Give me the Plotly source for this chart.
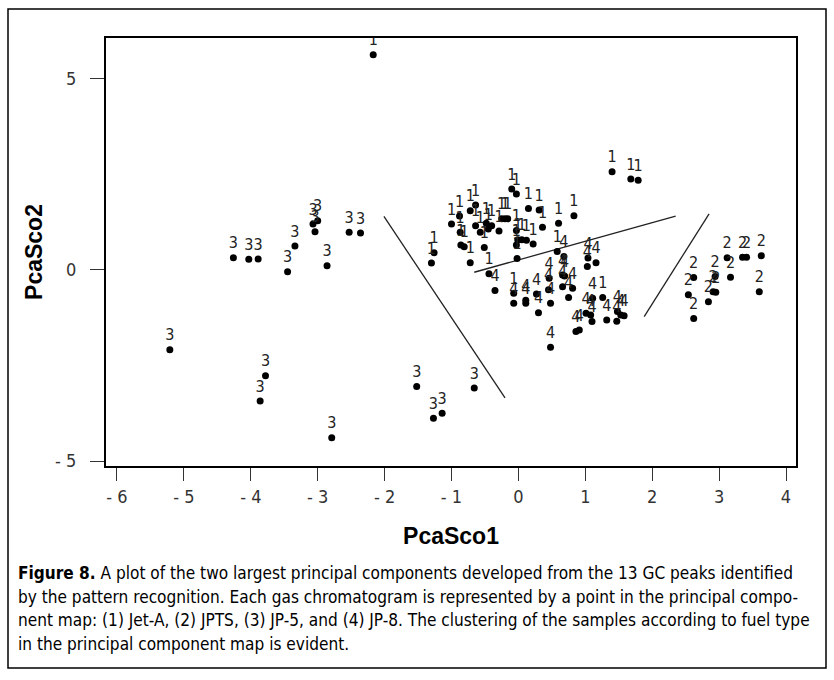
import plotly.graph_objects as go

# ---- data ----
jet_a_x = [-2.17, 1.40, 1.68, 1.79, -1.26, -1.30, -1.00, -0.88, -0.87, -0.86, -0.81, -0.72, -0.64, -0.64,
           -0.57, -0.51, -0.48, -0.45, -0.40, -0.29, -0.25, -0.20, -0.16, -0.10, -0.03, -0.03, -0.01, 0.05,
           0.12, -0.03, 0.15, 0.22, 0.31, 0.36, 0.60, 0.83, -0.02, 0.58, -0.72, -0.44, -0.07, 1.26]
jet_a_y = [5.63, 2.57, 2.38, 2.35, 0.45, 0.18, 1.20, 1.41, 0.99, 0.65, 0.61, 1.55, 1.70, 1.16,
           0.99, 0.59, 1.22, 1.07, 1.16, 1.02, 1.34, 1.34, 1.34, 2.12, 1.99, 1.03, 0.79, 0.79,
           0.78, 0.65, 1.61, 0.68, 1.57, 1.12, 1.22, 1.42, 0.30, 0.48, 0.19, -0.10, -0.61, -0.72]

jpts_x = [2.62, 2.54, 2.62, 2.94, 2.91, 2.95, 2.84, 3.12, 3.17, 3.35, 3.41, 3.63, 3.60]
jpts_y = [-0.20, -0.65, -1.27, -0.17, -0.57, -0.58, -0.83, 0.32, -0.19, 0.33, 0.33, 0.37, -0.57]

jp5_x = [-4.26, -4.03, -3.89, -3.45, -3.34, -3.07, -3.00, -3.04, -2.86, -2.53, -2.36,
         -5.21, -3.78, -3.86, -2.79, -1.52, -1.27, -1.14, -0.66]
jp5_y = [0.32, 0.28, 0.29, -0.05, 0.63, 1.20, 1.29, 1.00, 0.11, 0.99, 0.97,
         -2.09, -2.77, -3.43, -4.39, -3.05, -3.88, -3.75, -3.09]

jp8_x = [0.68, -0.35, -0.07, 0.11, 0.11, 0.27, 0.30, 0.46, 0.45, 0.48, 0.66, 0.69, 0.66, 0.81, 0.75,
         1.03, 1.04, 1.16, 0.91, 0.86, 1.11, 1.01, 1.08, 1.10, 1.32, 1.48, 1.53, 1.58, 1.47, 0.48]
jp8_y = [0.35, -0.54, -0.87, -0.79, -0.87, -0.63, -1.12, -0.22, -0.52, -0.87, -0.13, -0.16, -0.44, -0.48, -0.72,
         0.09, 0.31, 0.19, -1.57, -1.61, -0.74, -1.13, -1.18, -1.35, -1.31, -1.09, -1.18, -1.20, -1.34, -2.02]

groups = [("1", jet_a_x, jet_a_y), ("2", jpts_x, jpts_y), ("3", jp5_x, jp5_y), ("4", jp8_x, jp8_y)]

# class boundary lines (endpoints)
boundary_a_x = [-0.66, 2.35]
boundary_a_y = [-0.06, 1.41]
boundary_b_x = [-2.01, -0.20]
boundary_b_y = [1.40, -3.35]
boundary_c_x = [2.85, 1.88]
boundary_c_y = [1.47, -1.22]

x_ticks = [-6, -5, -4, -3, -2, -1, 0, 1, 2, 3, 4]
y_ticks = [-5, 0, 5]

caption_lines = [
    "<b>Figure 8.</b> A plot of the two largest principal components developed from the 13 GC peaks identified",
    "by the pattern recognition. Each gas chromatogram is represented by a point in the principal compo-",
    "nent map: (1) Jet-A, (2) JPTS, (3) JP-5, and (4) JP-8. The clustering of the samples according to fuel type",
    "in the principal component map is evident.",
]

# ---- figure ----
NARROW = "DejaVu Sans Condensed, Liberation Sans Narrow, Arial Narrow, sans-serif"
fig = go.Figure()

for bx, by in [(boundary_a_x, boundary_a_y), (boundary_b_x, boundary_b_y), (boundary_c_x, boundary_c_y)]:
    fig.add_trace(go.Scatter(x=bx, y=by, mode="lines", line=dict(color="#222", width=1.3),
                             hoverinfo="skip", showlegend=False))

for lab, gx, gy in groups:
    fig.add_trace(go.Scatter(
        x=gx, y=gy, mode="markers+text", text=[lab] * len(gx), textposition="top center",
        textfont=dict(family=NARROW, size=16, color="#222"),
        marker=dict(color="black", size=7), showlegend=False, name=lab))

fig.update_xaxes(range=[-6.164, 4.149], tickvals=x_ticks,
                 ticktext=[str(v) if v >= 0 else "- " + str(-v) for v in x_ticks],
                 showgrid=False, zeroline=False, showline=True, linecolor="black", linewidth=2, mirror=True,
                 ticks="outside", ticklen=13, tickwidth=1, tickcolor="#333",
                 tickfont=dict(family=NARROW, size=18, color="#333"),
                 title=dict(text="<b>PcaSco1</b>",
                            font=dict(family="Liberation Sans, Arial, sans-serif", size=23, color="black"),
                            standoff=22))
fig.update_yaxes(range=[-5.13, 6.07], tickvals=y_ticks, ticktext=["- 5", "0", "5"],
                 showgrid=False, zeroline=False, showline=True, linecolor="black", linewidth=2, mirror=True,
                 ticks="outside", ticklen=14, tickwidth=1, tickcolor="#333", ticklabelstandoff=10,
                 tickfont=dict(family=NARROW, size=18, color="#333"),
                 title=dict(text="<b>PcaSco2</b>",
                            font=dict(family="Liberation Sans, Arial, sans-serif", size=23, color="black"),
                            standoff=6))

# plot area: x 106..796, y 38..466 px
L, R, T, B = 106, 796, 38, 466
W, H = 834, 680
pw, ph = R - L, B - T


def px2paper_x(px):
    return (px - L) / pw


def px2paper_y(py):
    return (B - py) / ph


shapes = [dict(type="rect", xref="paper", yref="paper",
               x0=px2paper_x(8), x1=px2paper_x(826), y0=px2paper_y(668), y1=px2paper_y(9),
               line=dict(color="black", width=1.5), fillcolor="rgba(0,0,0,0)", layer="below")]

annotations = []
for i, line in enumerate(caption_lines):
    annotations.append(dict(xref="paper", yref="paper", x=px2paper_x(16), y=px2paper_y(573 + i * 23.5),
                            xanchor="left", yanchor="middle", showarrow=False, text=line,
                            font=dict(family=NARROW, size=17.1, color="black")))

fig.update_layout(width=W, height=H, margin=dict(l=L, r=W - R, t=T, b=H - B),
                  plot_bgcolor="white", paper_bgcolor="white",
                  shapes=shapes, annotations=annotations)

fig.write_html("out.html")
